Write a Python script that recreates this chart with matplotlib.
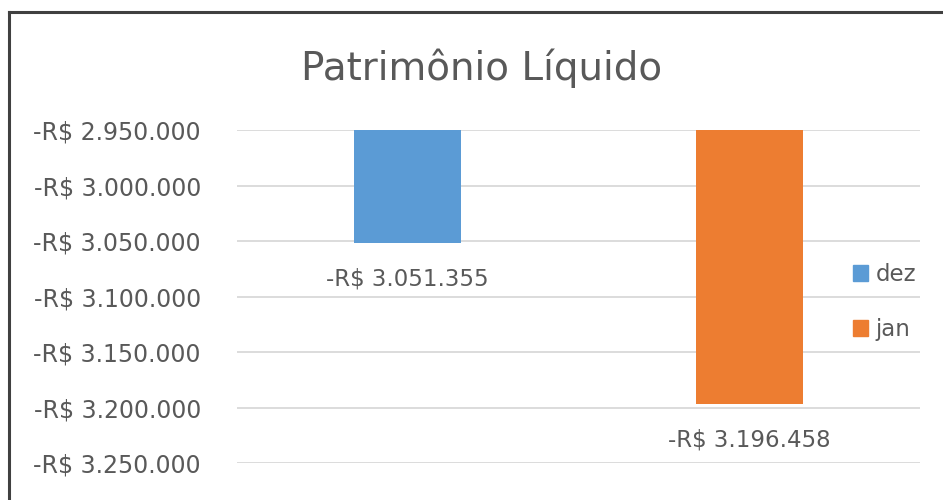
import matplotlib
matplotlib.use("Agg")
import matplotlib.pyplot as plt
from matplotlib.lines import Line2D
from matplotlib.ticker import FuncFormatter

# Data
series = ["dez", "jan"]
values = [-3051355, -3196458]
colors = ["#5B9BD5", "#ED7D31"]
yticks = [-2950000, -3000000, -3050000, -3100000, -3150000, -3200000, -3250000]
title = "Patrimônio Líquido"

W, H = 943, 500
base = -2950000
plt.rcParams['font.family'] = ['DejaVu Sans']
text_color = "#595959"

fig = plt.figure(figsize=(W / 100, H / 100), dpi=100)
fig.patch.set_facecolor("white")

# axes in pixel geometry
left, right, top, bottom = 237, 920, 130, 463
ax = fig.add_axes([left / W, 1 - bottom / H, (right - left) / W, (bottom - top) / H])
ax.set_ylim(-3250000, -2950000)
ax.set_xlim(-0.5, 1.5)

def fmt(v):
    s = f"{abs(v):,.0f}".replace(",", ".")
    return f"-R$ {s}"

xs = list(range(len(series)))
bar_w = 0.313
for x, v, c, name in zip(xs, values, colors, series):
    ax.bar(x, v - base, bottom=base, width=bar_w, color=c, label=name, zorder=3)
    ax.annotate(fmt(v), xy=(x, v), xytext=(0, -26), textcoords="offset points",
                ha="center", va="center", fontsize=16.5, color=text_color)

ax.set_yticks(yticks)
ax.yaxis.set_major_formatter(FuncFormatter(lambda v, p: fmt(v)))
ax.tick_params(axis="y", length=0, pad=26, labelsize=17, labelcolor=text_color)
ax.set_xticks([])
ax.grid(axis="y", color="#D9D9D9", linewidth=1.3, zorder=0)
for s in ax.spines.values():
    s.set_visible(False)

fig.text((303 + 660) / 2 / W, 1 - 68 / H, title, ha="center", va="center",
         fontsize=28, color=text_color)

# legend
handles = [plt.Rectangle((0, 0), 1, 1, color=c) for c in colors]
leg = fig.legend(handles, series, loc="center left", bbox_to_anchor=(832 / W, 1 - 302 / H),
                 frameon=False, fontsize=16.5, labelcolor=text_color,
                 handlelength=0.65, handleheight=0.65, handletextpad=0.35, labelspacing=1.4)

# chart frame (cropped on right and bottom)
fig.add_artist(Line2D([8.5 / W, 8.5 / W], [-0.02, 1 - 11.5 / H], color="#404040", linewidth=2.2))
fig.add_artist(Line2D([8.5 / W, 1.02], [1 - 11.5 / H, 1 - 11.5 / H], color="#404040", linewidth=2.2))

fig.savefig("out.png", dpi=100)
